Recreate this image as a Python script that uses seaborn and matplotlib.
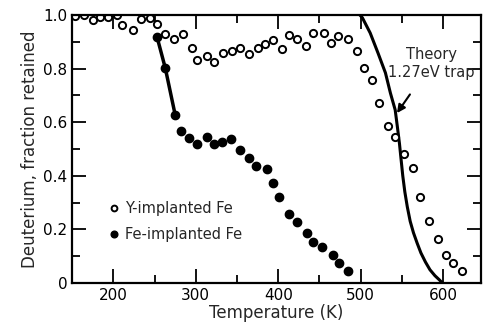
import matplotlib
matplotlib.use("Agg")
import matplotlib.pyplot as plt
import seaborn as sns
import numpy as np
import pandas as pd
from matplotlib.ticker import MultipleLocator

# Y-implanted Fe (open circles)
y_temp = [153, 164, 175, 184, 194, 205, 211, 224, 234, 244, 253, 263, 273, 284,
          295, 302, 313, 322, 333, 344, 353, 364, 375, 384, 394, 404, 413, 423,
          434, 442, 455, 464, 473, 484, 496, 504, 514, 522, 533, 542, 553, 564,
          572, 583, 594, 604, 612, 623]
y_frac = [0.996, 1.0, 0.981, 0.993, 0.993, 1.0, 0.963, 0.944, 0.985, 0.989, 0.966,
          0.929, 0.910, 0.929, 0.877, 0.832, 0.847, 0.825, 0.858, 0.866, 0.877,
          0.854, 0.877, 0.892, 0.907, 0.873, 0.925, 0.910, 0.884, 0.933, 0.933,
          0.896, 0.922, 0.910, 0.866, 0.802, 0.757, 0.672, 0.586, 0.545, 0.481,
          0.429, 0.321, 0.231, 0.164, 0.104, 0.075, 0.045]

# Fe-implanted Fe (filled circles)
fe_temp = [253, 263, 275, 282, 292, 302, 313, 322, 332, 343, 353, 364, 373, 386,
           394, 401, 413, 423, 435, 442, 453, 466, 474, 484]
fe_frac = [0.918, 0.802, 0.627, 0.567, 0.541, 0.519, 0.545, 0.519, 0.526, 0.537,
           0.496, 0.466, 0.437, 0.425, 0.373, 0.321, 0.257, 0.228, 0.187, 0.153,
           0.134, 0.104, 0.075, 0.045]

# Theory curve, 1.27 eV trap
th_temp = [499, 502, 511.5, 521, 530, 536, 541.8, 544.5, 547, 549, 551, 553.5,
           556.5, 560, 564, 568.5, 573, 578.5, 584, 590, 595.5, 599]
th_frac = [1.0, 0.99, 0.933, 0.858, 0.784, 0.709, 0.646, 0.582, 0.52, 0.46, 0.40,
           0.34, 0.284, 0.23, 0.187, 0.148, 0.112, 0.078, 0.049, 0.027, 0.011, 0.0]

sns.set_style("ticks")
plt.rcParams['font.family'] = ['DejaVu Sans']

fig = plt.figure(figsize=(4.84, 3.34), dpi=100)
ax = fig.add_axes([0.149, 0.153, 0.845, 0.802])

df_y = pd.DataFrame({"T": y_temp, "f": y_frac})
df_fe = pd.DataFrame({"T": fe_temp, "f": fe_frac})
df_th = pd.DataFrame({"T": th_temp, "f": th_frac})

sns.lineplot(data=df_th, x="T", y="f", ax=ax, color="black", lw=2.2, sort=False,
             legend=False)
sns.lineplot(data=df_fe.iloc[:3], x="T", y="f", ax=ax, color="black", lw=2.5,
             sort=False, legend=False)
ax.plot(df_y["T"], df_y["f"], "o", ms=5.2, mfc="white", mec="black", mew=1.4,
        label="Y-implanted Fe", ls="none")
ax.plot(df_fe["T"], df_fe["f"], "o", ms=6, mfc="black", mec="black",
        label="Fe-implanted Fe", ls="none")

ax.set_xlim(150, 646)
ax.set_ylim(0, 1.0)
ax.xaxis.set_major_locator(MultipleLocator(100))
ax.xaxis.set_minor_locator(MultipleLocator(50))
ax.yaxis.set_major_locator(MultipleLocator(0.2))
ax.yaxis.set_minor_locator(MultipleLocator(0.1))
ax.set_yticks([0, 0.2, 0.4, 0.6, 0.8, 1.0])
ax.set_yticklabels(["0", "0.2", "0.4", "0.6", "0.8", "1.0"])
ax.tick_params(which="both", direction="in", top=True, right=True, width=1.3,
               labelsize=11, colors="black")
ax.tick_params(which="major", length=10)
ax.tick_params(which="minor", length=6)
for s in ax.spines.values():
    s.set_visible(True)
    s.set_linewidth(1.6)
    s.set_color("black")

ax.set_xlabel("Temperature (K)", fontsize=12, labelpad=1)
ax.set_ylabel("Deuterium, fraction retained", fontsize=12, labelpad=3)

leg = ax.legend(loc="lower left", bbox_to_anchor=(0.075, 0.13), frameon=False,
                fontsize=10.5, handletextpad=0.35, borderaxespad=0, markerscale=0.8,
                handlelength=0.8, labelspacing=0.75)

ax.annotate("Theory\n1.27eV trap", xy=(544, 0.634), xytext=(586, 0.82),
            ha="center", va="center", fontsize=10.5, linespacing=1.25,
            arrowprops=dict(arrowstyle="-|>", color="black", lw=1.5,
                            shrinkA=10, shrinkB=0, mutation_scale=12))

fig.savefig("out.png", dpi=100)
